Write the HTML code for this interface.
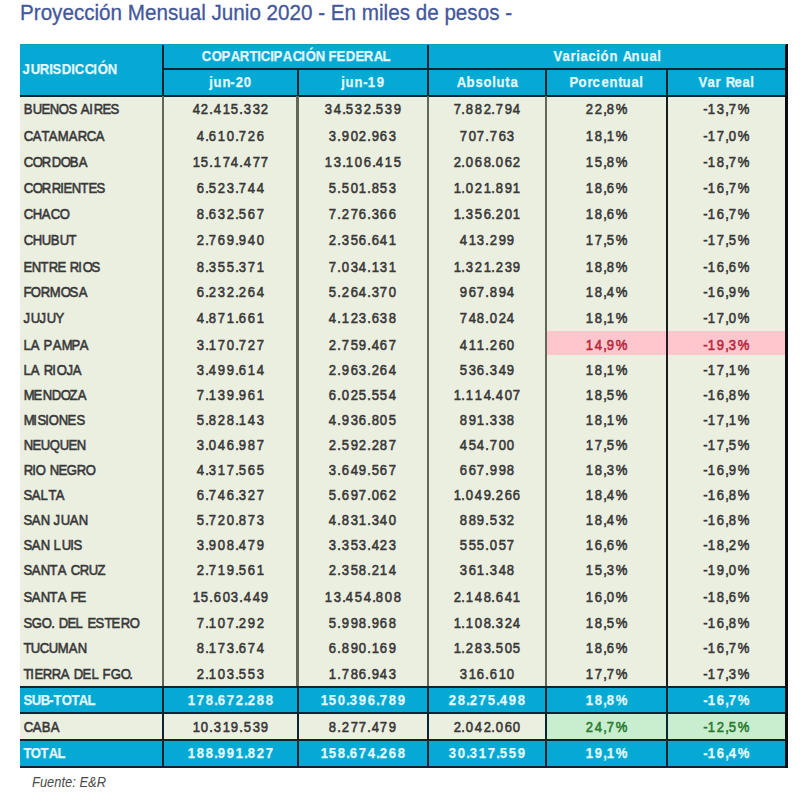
<!DOCTYPE html>
<html><head><meta charset="utf-8"><style>
html,body{margin:0;padding:0;background:#fff;width:800px;height:804px;overflow:hidden;position:relative}
body{font-family:"Liberation Sans",sans-serif}
div,p{position:absolute;margin:0;padding:0}
p{white-space:nowrap;font-weight:normal}
.th,.tt{font-weight:bold;-webkit-text-stroke:0.25px}
.td{font-weight:normal;-webkit-text-stroke:0.6px}
i{display:inline-block;font-style:normal;text-align:center;transform:scaleX(0.86)}
.title{left:19.8px;top:-0.13px;font-size:22.5px;color:#43579a;font-weight:normal;-webkit-text-stroke:0.3px #43579a;line-height:25.87px;transform:scaleX(0.9171);transform-origin:left}
.th,.tt{color:#e4f8ff}
.td{color:#383838}
.bad{color:#b42a3c}
.good{color:#2a7a30}
.fuente{left:31.5px;top:774.40px;font-size:14px;line-height:16.1px;font-style:italic;font-weight:normal;color:#4a4a4a;transform:scaleX(0.9233);transform-origin:left}
</style></head><body>
<p class="title">Proyección Mensual Junio 2020 - En miles de pesos -</p>
<div style="left:20.00px;top:43.60px;width:766.00px;height:52.10px;background:#05aad4"></div>
<div style="left:20.00px;top:95.70px;width:766.00px;height:591.30px;background:#ebefe0"></div>
<div style="left:20.00px;top:687.00px;width:766.00px;height:26.40px;background:#05aad4"></div>
<div style="left:20.00px;top:713.40px;width:766.00px;height:26.60px;background:#ebefe0"></div>
<div style="left:20.00px;top:740.00px;width:766.00px;height:26.60px;background:#05aad4"></div>
<div style="left:545.90px;top:331.00px;width:240.10px;height:24.00px;background:#ffc6ce"></div>
<div style="left:545.90px;top:713.40px;width:240.10px;height:26.60px;background:#c9eecf"></div>
<p class="th" style="left:22.48px;top:60.42px;font-size:15.2px;line-height:17.48px"><i style="width:7.31px">J</i><i style="width:9.50px">U</i><i style="width:9.50px">R</i><i style="width:3.65px">I</i><i style="width:8.77px">S</i><i style="width:9.50px">D</i><i style="width:3.65px">I</i><i style="width:9.50px">C</i><i style="width:9.50px">C</i><i style="width:3.65px">I</i><i style="width:10.23px">Ó</i><i style="width:9.50px">N</i></p>
<p class="th" style="left:201.02px;top:47.02px;font-size:15.2px;line-height:17.48px"><i style="width:9.50px">C</i><i style="width:10.23px">O</i><i style="width:8.77px">P</i><i style="width:9.50px">A</i><i style="width:9.50px">R</i><i style="width:8.03px">T</i><i style="width:3.65px">I</i><i style="width:9.50px">C</i><i style="width:3.65px">I</i><i style="width:8.77px">P</i><i style="width:9.50px">A</i><i style="width:9.50px">C</i><i style="width:3.65px">I</i><i style="width:10.23px">Ó</i><i style="width:9.50px">N</i><i style="width:3.89px"> </i><i style="width:8.03px">F</i><i style="width:8.77px">E</i><i style="width:9.50px">D</i><i style="width:8.77px">E</i><i style="width:9.50px">R</i><i style="width:9.50px">A</i><i style="width:8.03px">L</i></p>
<p class="th" style="left:552.97px;top:47.02px;font-size:15.2px;line-height:17.48px"><i style="width:8.77px">V</i><i style="width:8.12px">a</i><i style="width:5.68px">r</i><i style="width:4.06px">i</i><i style="width:8.12px">a</i><i style="width:8.12px">c</i><i style="width:4.06px">i</i><i style="width:8.92px">ó</i><i style="width:8.92px">n</i><i style="width:3.89px"> </i><i style="width:9.50px">A</i><i style="width:8.92px">n</i><i style="width:8.92px">u</i><i style="width:8.12px">a</i><i style="width:4.06px">l</i></p>
<p class="th" style="left:208.58px;top:73.32px;font-size:15.2px;line-height:17.48px"><i style="width:4.06px">j</i><i style="width:8.92px">u</i><i style="width:8.92px">n</i><i style="width:4.16px">-</i><i style="width:8.84px">2</i><i style="width:8.84px">0</i></p>
<p class="th" style="left:340.93px;top:73.32px;font-size:15.2px;line-height:17.48px"><i style="width:4.06px">j</i><i style="width:8.92px">u</i><i style="width:8.92px">n</i><i style="width:4.16px">-</i><i style="width:8.84px">1</i><i style="width:8.84px">9</i></p>
<p class="th" style="left:456.30px;top:73.32px;font-size:15.2px;line-height:17.48px"><i style="width:9.50px">A</i><i style="width:8.92px">b</i><i style="width:8.12px">s</i><i style="width:8.92px">o</i><i style="width:4.06px">l</i><i style="width:8.92px">u</i><i style="width:4.86px">t</i><i style="width:8.12px">a</i></p>
<p class="th" style="left:569.06px;top:73.32px;font-size:15.2px;line-height:17.48px"><i style="width:8.77px">P</i><i style="width:8.92px">o</i><i style="width:5.68px">r</i><i style="width:8.12px">c</i><i style="width:8.12px">e</i><i style="width:8.92px">n</i><i style="width:4.86px">t</i><i style="width:8.92px">u</i><i style="width:8.12px">a</i><i style="width:4.06px">l</i></p>
<p class="th" style="left:698.22px;top:73.32px;font-size:15.2px;line-height:17.48px"><i style="width:8.77px">V</i><i style="width:8.12px">a</i><i style="width:5.68px">r</i><i style="width:3.89px"> </i><i style="width:9.50px">R</i><i style="width:8.12px">e</i><i style="width:8.12px">a</i><i style="width:4.06px">l</i></p>
<p class="td" style="left:22.69px;top:100.22px;font-size:15.2px;line-height:17.48px"><i style="width:9.06px">B</i><i style="width:9.06px">U</i><i style="width:8.37px">E</i><i style="width:9.06px">N</i><i style="width:9.76px">O</i><i style="width:8.37px">S</i><i style="width:3.89px"> </i><i style="width:9.06px">A</i><i style="width:3.49px">I</i><i style="width:9.06px">R</i><i style="width:8.37px">E</i><i style="width:8.37px">S</i></p>
<p class="td" style="left:191.61px;top:100.22px;font-size:15.2px;line-height:17.48px"><i style="width:8.84px">4</i><i style="width:8.84px">2</i><i style="width:3.47px">.</i><i style="width:8.84px">4</i><i style="width:8.84px">1</i><i style="width:8.84px">5</i><i style="width:3.47px">.</i><i style="width:8.84px">3</i><i style="width:8.84px">3</i><i style="width:8.84px">2</i></p>
<p class="td" style="left:323.96px;top:100.22px;font-size:15.2px;line-height:17.48px"><i style="width:8.84px">3</i><i style="width:8.84px">4</i><i style="width:3.47px">.</i><i style="width:8.84px">5</i><i style="width:8.84px">3</i><i style="width:8.84px">2</i><i style="width:3.47px">.</i><i style="width:8.84px">5</i><i style="width:8.84px">3</i><i style="width:8.84px">9</i></p>
<p class="td" style="left:452.58px;top:100.22px;font-size:15.2px;line-height:17.48px"><i style="width:8.84px">7</i><i style="width:3.47px">.</i><i style="width:8.84px">8</i><i style="width:8.84px">8</i><i style="width:8.84px">2</i><i style="width:3.47px">.</i><i style="width:8.84px">7</i><i style="width:8.84px">9</i><i style="width:8.84px">4</i></p>
<p class="td" style="left:585.08px;top:100.22px;font-size:15.2px;line-height:17.48px"><i style="width:8.84px">2</i><i style="width:8.84px">2</i><i style="width:3.47px">,</i><i style="width:8.84px">8</i><i style="width:12.45px">%</i></p>
<p class="td" style="left:703.05px;top:100.22px;font-size:15.2px;line-height:17.48px"><i style="width:4.16px">-</i><i style="width:8.84px">1</i><i style="width:8.84px">3</i><i style="width:3.47px">,</i><i style="width:8.84px">7</i><i style="width:12.45px">%</i></p>
<p class="td" style="left:22.69px;top:126.52px;font-size:15.2px;line-height:17.48px"><i style="width:9.06px">C</i><i style="width:9.06px">A</i><i style="width:7.67px">T</i><i style="width:9.06px">A</i><i style="width:10.45px">M</i><i style="width:9.06px">A</i><i style="width:9.06px">R</i><i style="width:9.06px">C</i><i style="width:9.06px">A</i></p>
<p class="td" style="left:196.03px;top:126.52px;font-size:15.2px;line-height:17.48px"><i style="width:8.84px">4</i><i style="width:3.47px">.</i><i style="width:8.84px">6</i><i style="width:8.84px">1</i><i style="width:8.84px">0</i><i style="width:3.47px">.</i><i style="width:8.84px">7</i><i style="width:8.84px">2</i><i style="width:8.84px">6</i></p>
<p class="td" style="left:328.38px;top:126.52px;font-size:15.2px;line-height:17.48px"><i style="width:8.84px">3</i><i style="width:3.47px">.</i><i style="width:8.84px">9</i><i style="width:8.84px">0</i><i style="width:8.84px">2</i><i style="width:3.47px">.</i><i style="width:8.84px">9</i><i style="width:8.84px">6</i><i style="width:8.84px">3</i></p>
<p class="td" style="left:458.74px;top:126.52px;font-size:15.2px;line-height:17.48px"><i style="width:8.84px">7</i><i style="width:8.84px">0</i><i style="width:8.84px">7</i><i style="width:3.47px">.</i><i style="width:8.84px">7</i><i style="width:8.84px">6</i><i style="width:8.84px">3</i></p>
<p class="td" style="left:585.08px;top:126.52px;font-size:15.2px;line-height:17.48px"><i style="width:8.84px">1</i><i style="width:8.84px">8</i><i style="width:3.47px">,</i><i style="width:8.84px">1</i><i style="width:12.45px">%</i></p>
<p class="td" style="left:703.05px;top:126.52px;font-size:15.2px;line-height:17.48px"><i style="width:4.16px">-</i><i style="width:8.84px">1</i><i style="width:8.84px">7</i><i style="width:3.47px">,</i><i style="width:8.84px">0</i><i style="width:12.45px">%</i></p>
<p class="td" style="left:22.69px;top:153.42px;font-size:15.2px;line-height:17.48px"><i style="width:9.06px">C</i><i style="width:9.76px">O</i><i style="width:9.06px">R</i><i style="width:9.06px">D</i><i style="width:9.76px">O</i><i style="width:9.06px">B</i><i style="width:9.06px">A</i></p>
<p class="td" style="left:191.61px;top:153.42px;font-size:15.2px;line-height:17.48px"><i style="width:8.84px">1</i><i style="width:8.84px">5</i><i style="width:3.47px">.</i><i style="width:8.84px">1</i><i style="width:8.84px">7</i><i style="width:8.84px">4</i><i style="width:3.47px">.</i><i style="width:8.84px">4</i><i style="width:8.84px">7</i><i style="width:8.84px">7</i></p>
<p class="td" style="left:323.96px;top:153.42px;font-size:15.2px;line-height:17.48px"><i style="width:8.84px">1</i><i style="width:8.84px">3</i><i style="width:3.47px">.</i><i style="width:8.84px">1</i><i style="width:8.84px">0</i><i style="width:8.84px">6</i><i style="width:3.47px">.</i><i style="width:8.84px">4</i><i style="width:8.84px">1</i><i style="width:8.84px">5</i></p>
<p class="td" style="left:452.58px;top:153.42px;font-size:15.2px;line-height:17.48px"><i style="width:8.84px">2</i><i style="width:3.47px">.</i><i style="width:8.84px">0</i><i style="width:8.84px">6</i><i style="width:8.84px">8</i><i style="width:3.47px">.</i><i style="width:8.84px">0</i><i style="width:8.84px">6</i><i style="width:8.84px">2</i></p>
<p class="td" style="left:585.08px;top:153.42px;font-size:15.2px;line-height:17.48px"><i style="width:8.84px">1</i><i style="width:8.84px">5</i><i style="width:3.47px">,</i><i style="width:8.84px">8</i><i style="width:12.45px">%</i></p>
<p class="td" style="left:703.05px;top:153.42px;font-size:15.2px;line-height:17.48px"><i style="width:4.16px">-</i><i style="width:8.84px">1</i><i style="width:8.84px">8</i><i style="width:3.47px">,</i><i style="width:8.84px">7</i><i style="width:12.45px">%</i></p>
<p class="td" style="left:22.69px;top:179.02px;font-size:15.2px;line-height:17.48px"><i style="width:9.06px">C</i><i style="width:9.76px">O</i><i style="width:9.06px">R</i><i style="width:9.06px">R</i><i style="width:3.49px">I</i><i style="width:8.37px">E</i><i style="width:9.06px">N</i><i style="width:7.67px">T</i><i style="width:8.37px">E</i><i style="width:8.37px">S</i></p>
<p class="td" style="left:196.03px;top:179.02px;font-size:15.2px;line-height:17.48px"><i style="width:8.84px">6</i><i style="width:3.47px">.</i><i style="width:8.84px">5</i><i style="width:8.84px">2</i><i style="width:8.84px">3</i><i style="width:3.47px">.</i><i style="width:8.84px">7</i><i style="width:8.84px">4</i><i style="width:8.84px">4</i></p>
<p class="td" style="left:328.38px;top:179.02px;font-size:15.2px;line-height:17.48px"><i style="width:8.84px">5</i><i style="width:3.47px">.</i><i style="width:8.84px">5</i><i style="width:8.84px">0</i><i style="width:8.84px">1</i><i style="width:3.47px">.</i><i style="width:8.84px">8</i><i style="width:8.84px">5</i><i style="width:8.84px">3</i></p>
<p class="td" style="left:452.58px;top:179.02px;font-size:15.2px;line-height:17.48px"><i style="width:8.84px">1</i><i style="width:3.47px">.</i><i style="width:8.84px">0</i><i style="width:8.84px">2</i><i style="width:8.84px">1</i><i style="width:3.47px">.</i><i style="width:8.84px">8</i><i style="width:8.84px">9</i><i style="width:8.84px">1</i></p>
<p class="td" style="left:585.08px;top:179.02px;font-size:15.2px;line-height:17.48px"><i style="width:8.84px">1</i><i style="width:8.84px">8</i><i style="width:3.47px">,</i><i style="width:8.84px">6</i><i style="width:12.45px">%</i></p>
<p class="td" style="left:703.05px;top:179.02px;font-size:15.2px;line-height:17.48px"><i style="width:4.16px">-</i><i style="width:8.84px">1</i><i style="width:8.84px">6</i><i style="width:3.47px">,</i><i style="width:8.84px">7</i><i style="width:12.45px">%</i></p>
<p class="td" style="left:22.69px;top:204.62px;font-size:15.2px;line-height:17.48px"><i style="width:9.06px">C</i><i style="width:9.06px">H</i><i style="width:9.06px">A</i><i style="width:9.06px">C</i><i style="width:9.76px">O</i></p>
<p class="td" style="left:196.03px;top:204.62px;font-size:15.2px;line-height:17.48px"><i style="width:8.84px">8</i><i style="width:3.47px">.</i><i style="width:8.84px">6</i><i style="width:8.84px">3</i><i style="width:8.84px">2</i><i style="width:3.47px">.</i><i style="width:8.84px">5</i><i style="width:8.84px">6</i><i style="width:8.84px">7</i></p>
<p class="td" style="left:328.38px;top:204.62px;font-size:15.2px;line-height:17.48px"><i style="width:8.84px">7</i><i style="width:3.47px">.</i><i style="width:8.84px">2</i><i style="width:8.84px">7</i><i style="width:8.84px">6</i><i style="width:3.47px">.</i><i style="width:8.84px">3</i><i style="width:8.84px">6</i><i style="width:8.84px">6</i></p>
<p class="td" style="left:452.58px;top:204.62px;font-size:15.2px;line-height:17.48px"><i style="width:8.84px">1</i><i style="width:3.47px">.</i><i style="width:8.84px">3</i><i style="width:8.84px">5</i><i style="width:8.84px">6</i><i style="width:3.47px">.</i><i style="width:8.84px">2</i><i style="width:8.84px">0</i><i style="width:8.84px">1</i></p>
<p class="td" style="left:585.08px;top:204.62px;font-size:15.2px;line-height:17.48px"><i style="width:8.84px">1</i><i style="width:8.84px">8</i><i style="width:3.47px">,</i><i style="width:8.84px">6</i><i style="width:12.45px">%</i></p>
<p class="td" style="left:703.05px;top:204.62px;font-size:15.2px;line-height:17.48px"><i style="width:4.16px">-</i><i style="width:8.84px">1</i><i style="width:8.84px">6</i><i style="width:3.47px">,</i><i style="width:8.84px">7</i><i style="width:12.45px">%</i></p>
<p class="td" style="left:22.69px;top:230.92px;font-size:15.2px;line-height:17.48px"><i style="width:9.06px">C</i><i style="width:9.06px">H</i><i style="width:9.06px">U</i><i style="width:9.06px">B</i><i style="width:9.06px">U</i><i style="width:7.67px">T</i></p>
<p class="td" style="left:196.03px;top:230.92px;font-size:15.2px;line-height:17.48px"><i style="width:8.84px">2</i><i style="width:3.47px">.</i><i style="width:8.84px">7</i><i style="width:8.84px">6</i><i style="width:8.84px">9</i><i style="width:3.47px">.</i><i style="width:8.84px">9</i><i style="width:8.84px">4</i><i style="width:8.84px">0</i></p>
<p class="td" style="left:328.38px;top:230.92px;font-size:15.2px;line-height:17.48px"><i style="width:8.84px">2</i><i style="width:3.47px">.</i><i style="width:8.84px">3</i><i style="width:8.84px">5</i><i style="width:8.84px">6</i><i style="width:3.47px">.</i><i style="width:8.84px">6</i><i style="width:8.84px">4</i><i style="width:8.84px">1</i></p>
<p class="td" style="left:458.74px;top:230.92px;font-size:15.2px;line-height:17.48px"><i style="width:8.84px">4</i><i style="width:8.84px">1</i><i style="width:8.84px">3</i><i style="width:3.47px">.</i><i style="width:8.84px">2</i><i style="width:8.84px">9</i><i style="width:8.84px">9</i></p>
<p class="td" style="left:585.08px;top:230.92px;font-size:15.2px;line-height:17.48px"><i style="width:8.84px">1</i><i style="width:8.84px">7</i><i style="width:3.47px">,</i><i style="width:8.84px">5</i><i style="width:12.45px">%</i></p>
<p class="td" style="left:703.05px;top:230.92px;font-size:15.2px;line-height:17.48px"><i style="width:4.16px">-</i><i style="width:8.84px">1</i><i style="width:8.84px">7</i><i style="width:3.47px">,</i><i style="width:8.84px">5</i><i style="width:12.45px">%</i></p>
<p class="td" style="left:22.67px;top:257.72px;font-size:15.2px;line-height:17.48px"><i style="width:8.37px">E</i><i style="width:9.06px">N</i><i style="width:7.67px">T</i><i style="width:9.06px">R</i><i style="width:8.37px">E</i><i style="width:3.89px"> </i><i style="width:9.06px">R</i><i style="width:3.49px">I</i><i style="width:9.76px">O</i><i style="width:8.37px">S</i></p>
<p class="td" style="left:196.03px;top:257.72px;font-size:15.2px;line-height:17.48px"><i style="width:8.84px">8</i><i style="width:3.47px">.</i><i style="width:8.84px">3</i><i style="width:8.84px">5</i><i style="width:8.84px">5</i><i style="width:3.47px">.</i><i style="width:8.84px">3</i><i style="width:8.84px">7</i><i style="width:8.84px">1</i></p>
<p class="td" style="left:328.38px;top:257.72px;font-size:15.2px;line-height:17.48px"><i style="width:8.84px">7</i><i style="width:3.47px">.</i><i style="width:8.84px">0</i><i style="width:8.84px">3</i><i style="width:8.84px">4</i><i style="width:3.47px">.</i><i style="width:8.84px">1</i><i style="width:8.84px">3</i><i style="width:8.84px">1</i></p>
<p class="td" style="left:452.58px;top:257.72px;font-size:15.2px;line-height:17.48px"><i style="width:8.84px">1</i><i style="width:3.47px">.</i><i style="width:8.84px">3</i><i style="width:8.84px">2</i><i style="width:8.84px">1</i><i style="width:3.47px">.</i><i style="width:8.84px">2</i><i style="width:8.84px">3</i><i style="width:8.84px">9</i></p>
<p class="td" style="left:585.08px;top:257.72px;font-size:15.2px;line-height:17.48px"><i style="width:8.84px">1</i><i style="width:8.84px">8</i><i style="width:3.47px">,</i><i style="width:8.84px">8</i><i style="width:12.45px">%</i></p>
<p class="td" style="left:703.05px;top:257.72px;font-size:15.2px;line-height:17.48px"><i style="width:4.16px">-</i><i style="width:8.84px">1</i><i style="width:8.84px">6</i><i style="width:3.47px">,</i><i style="width:8.84px">6</i><i style="width:12.45px">%</i></p>
<p class="td" style="left:22.66px;top:283.22px;font-size:15.2px;line-height:17.48px"><i style="width:7.67px">F</i><i style="width:9.76px">O</i><i style="width:9.06px">R</i><i style="width:10.45px">M</i><i style="width:9.76px">O</i><i style="width:8.37px">S</i><i style="width:9.06px">A</i></p>
<p class="td" style="left:196.03px;top:283.22px;font-size:15.2px;line-height:17.48px"><i style="width:8.84px">6</i><i style="width:3.47px">.</i><i style="width:8.84px">2</i><i style="width:8.84px">3</i><i style="width:8.84px">2</i><i style="width:3.47px">.</i><i style="width:8.84px">2</i><i style="width:8.84px">6</i><i style="width:8.84px">4</i></p>
<p class="td" style="left:328.38px;top:283.22px;font-size:15.2px;line-height:17.48px"><i style="width:8.84px">5</i><i style="width:3.47px">.</i><i style="width:8.84px">2</i><i style="width:8.84px">6</i><i style="width:8.84px">4</i><i style="width:3.47px">.</i><i style="width:8.84px">3</i><i style="width:8.84px">7</i><i style="width:8.84px">0</i></p>
<p class="td" style="left:458.74px;top:283.22px;font-size:15.2px;line-height:17.48px"><i style="width:8.84px">9</i><i style="width:8.84px">6</i><i style="width:8.84px">7</i><i style="width:3.47px">.</i><i style="width:8.84px">8</i><i style="width:8.84px">9</i><i style="width:8.84px">4</i></p>
<p class="td" style="left:585.08px;top:283.22px;font-size:15.2px;line-height:17.48px"><i style="width:8.84px">1</i><i style="width:8.84px">8</i><i style="width:3.47px">,</i><i style="width:8.84px">4</i><i style="width:12.45px">%</i></p>
<p class="td" style="left:703.05px;top:283.22px;font-size:15.2px;line-height:17.48px"><i style="width:4.16px">-</i><i style="width:8.84px">1</i><i style="width:8.84px">6</i><i style="width:3.47px">,</i><i style="width:8.84px">9</i><i style="width:12.45px">%</i></p>
<p class="td" style="left:22.65px;top:309.22px;font-size:15.2px;line-height:17.48px"><i style="width:6.98px">J</i><i style="width:9.06px">U</i><i style="width:6.98px">J</i><i style="width:9.06px">U</i><i style="width:8.37px">Y</i></p>
<p class="td" style="left:196.03px;top:309.22px;font-size:15.2px;line-height:17.48px"><i style="width:8.84px">4</i><i style="width:3.47px">.</i><i style="width:8.84px">8</i><i style="width:8.84px">7</i><i style="width:8.84px">1</i><i style="width:3.47px">.</i><i style="width:8.84px">6</i><i style="width:8.84px">6</i><i style="width:8.84px">1</i></p>
<p class="td" style="left:328.38px;top:309.22px;font-size:15.2px;line-height:17.48px"><i style="width:8.84px">4</i><i style="width:3.47px">.</i><i style="width:8.84px">1</i><i style="width:8.84px">2</i><i style="width:8.84px">3</i><i style="width:3.47px">.</i><i style="width:8.84px">6</i><i style="width:8.84px">3</i><i style="width:8.84px">8</i></p>
<p class="td" style="left:458.74px;top:309.22px;font-size:15.2px;line-height:17.48px"><i style="width:8.84px">7</i><i style="width:8.84px">4</i><i style="width:8.84px">8</i><i style="width:3.47px">.</i><i style="width:8.84px">0</i><i style="width:8.84px">2</i><i style="width:8.84px">4</i></p>
<p class="td" style="left:585.08px;top:309.22px;font-size:15.2px;line-height:17.48px"><i style="width:8.84px">1</i><i style="width:8.84px">8</i><i style="width:3.47px">,</i><i style="width:8.84px">1</i><i style="width:12.45px">%</i></p>
<p class="td" style="left:703.05px;top:309.22px;font-size:15.2px;line-height:17.48px"><i style="width:4.16px">-</i><i style="width:8.84px">1</i><i style="width:8.84px">7</i><i style="width:3.47px">,</i><i style="width:8.84px">0</i><i style="width:12.45px">%</i></p>
<p class="td" style="left:22.66px;top:335.52px;font-size:15.2px;line-height:17.48px"><i style="width:7.67px">L</i><i style="width:9.06px">A</i><i style="width:3.89px"> </i><i style="width:8.37px">P</i><i style="width:9.06px">A</i><i style="width:10.45px">M</i><i style="width:8.37px">P</i><i style="width:9.06px">A</i></p>
<p class="td" style="left:196.03px;top:335.52px;font-size:15.2px;line-height:17.48px"><i style="width:8.84px">3</i><i style="width:3.47px">.</i><i style="width:8.84px">1</i><i style="width:8.84px">7</i><i style="width:8.84px">0</i><i style="width:3.47px">.</i><i style="width:8.84px">7</i><i style="width:8.84px">2</i><i style="width:8.84px">7</i></p>
<p class="td" style="left:328.38px;top:335.52px;font-size:15.2px;line-height:17.48px"><i style="width:8.84px">2</i><i style="width:3.47px">.</i><i style="width:8.84px">7</i><i style="width:8.84px">5</i><i style="width:8.84px">9</i><i style="width:3.47px">.</i><i style="width:8.84px">4</i><i style="width:8.84px">6</i><i style="width:8.84px">7</i></p>
<p class="td" style="left:458.74px;top:335.52px;font-size:15.2px;line-height:17.48px"><i style="width:8.84px">4</i><i style="width:8.84px">1</i><i style="width:8.84px">1</i><i style="width:3.47px">.</i><i style="width:8.84px">2</i><i style="width:8.84px">6</i><i style="width:8.84px">0</i></p>
<p class="td bad" style="left:585.08px;top:335.52px;font-size:15.2px;line-height:17.48px"><i style="width:8.84px">1</i><i style="width:8.84px">4</i><i style="width:3.47px">,</i><i style="width:8.84px">9</i><i style="width:12.45px">%</i></p>
<p class="td bad" style="left:703.05px;top:335.52px;font-size:15.2px;line-height:17.48px"><i style="width:4.16px">-</i><i style="width:8.84px">1</i><i style="width:8.84px">9</i><i style="width:3.47px">,</i><i style="width:8.84px">3</i><i style="width:12.45px">%</i></p>
<p class="td" style="left:22.66px;top:361.12px;font-size:15.2px;line-height:17.48px"><i style="width:7.67px">L</i><i style="width:9.06px">A</i><i style="width:3.89px"> </i><i style="width:9.06px">R</i><i style="width:3.49px">I</i><i style="width:9.76px">O</i><i style="width:6.98px">J</i><i style="width:9.06px">A</i></p>
<p class="td" style="left:196.03px;top:361.12px;font-size:15.2px;line-height:17.48px"><i style="width:8.84px">3</i><i style="width:3.47px">.</i><i style="width:8.84px">4</i><i style="width:8.84px">9</i><i style="width:8.84px">9</i><i style="width:3.47px">.</i><i style="width:8.84px">6</i><i style="width:8.84px">1</i><i style="width:8.84px">4</i></p>
<p class="td" style="left:328.38px;top:361.12px;font-size:15.2px;line-height:17.48px"><i style="width:8.84px">2</i><i style="width:3.47px">.</i><i style="width:8.84px">9</i><i style="width:8.84px">6</i><i style="width:8.84px">3</i><i style="width:3.47px">.</i><i style="width:8.84px">2</i><i style="width:8.84px">6</i><i style="width:8.84px">4</i></p>
<p class="td" style="left:458.74px;top:361.12px;font-size:15.2px;line-height:17.48px"><i style="width:8.84px">5</i><i style="width:8.84px">3</i><i style="width:8.84px">6</i><i style="width:3.47px">.</i><i style="width:8.84px">3</i><i style="width:8.84px">4</i><i style="width:8.84px">9</i></p>
<p class="td" style="left:585.08px;top:361.12px;font-size:15.2px;line-height:17.48px"><i style="width:8.84px">1</i><i style="width:8.84px">8</i><i style="width:3.47px">,</i><i style="width:8.84px">1</i><i style="width:12.45px">%</i></p>
<p class="td" style="left:703.05px;top:361.12px;font-size:15.2px;line-height:17.48px"><i style="width:4.16px">-</i><i style="width:8.84px">1</i><i style="width:8.84px">7</i><i style="width:3.47px">,</i><i style="width:8.84px">1</i><i style="width:12.45px">%</i></p>
<p class="td" style="left:22.72px;top:386.12px;font-size:15.2px;line-height:17.48px"><i style="width:10.45px">M</i><i style="width:8.37px">E</i><i style="width:9.06px">N</i><i style="width:9.06px">D</i><i style="width:9.76px">O</i><i style="width:7.67px">Z</i><i style="width:9.06px">A</i></p>
<p class="td" style="left:196.03px;top:386.12px;font-size:15.2px;line-height:17.48px"><i style="width:8.84px">7</i><i style="width:3.47px">.</i><i style="width:8.84px">1</i><i style="width:8.84px">3</i><i style="width:8.84px">9</i><i style="width:3.47px">.</i><i style="width:8.84px">9</i><i style="width:8.84px">6</i><i style="width:8.84px">1</i></p>
<p class="td" style="left:328.38px;top:386.12px;font-size:15.2px;line-height:17.48px"><i style="width:8.84px">6</i><i style="width:3.47px">.</i><i style="width:8.84px">0</i><i style="width:8.84px">2</i><i style="width:8.84px">5</i><i style="width:3.47px">.</i><i style="width:8.84px">5</i><i style="width:8.84px">5</i><i style="width:8.84px">4</i></p>
<p class="td" style="left:452.58px;top:386.12px;font-size:15.2px;line-height:17.48px"><i style="width:8.84px">1</i><i style="width:3.47px">.</i><i style="width:8.84px">1</i><i style="width:8.84px">1</i><i style="width:8.84px">4</i><i style="width:3.47px">.</i><i style="width:8.84px">4</i><i style="width:8.84px">0</i><i style="width:8.84px">7</i></p>
<p class="td" style="left:585.08px;top:386.12px;font-size:15.2px;line-height:17.48px"><i style="width:8.84px">1</i><i style="width:8.84px">8</i><i style="width:3.47px">,</i><i style="width:8.84px">5</i><i style="width:12.45px">%</i></p>
<p class="td" style="left:703.05px;top:386.12px;font-size:15.2px;line-height:17.48px"><i style="width:4.16px">-</i><i style="width:8.84px">1</i><i style="width:8.84px">6</i><i style="width:3.47px">,</i><i style="width:8.84px">8</i><i style="width:12.45px">%</i></p>
<p class="td" style="left:22.72px;top:411.12px;font-size:15.2px;line-height:17.48px"><i style="width:10.45px">M</i><i style="width:3.49px">I</i><i style="width:8.37px">S</i><i style="width:3.49px">I</i><i style="width:9.76px">O</i><i style="width:9.06px">N</i><i style="width:8.37px">E</i><i style="width:8.37px">S</i></p>
<p class="td" style="left:196.03px;top:411.12px;font-size:15.2px;line-height:17.48px"><i style="width:8.84px">5</i><i style="width:3.47px">.</i><i style="width:8.84px">8</i><i style="width:8.84px">2</i><i style="width:8.84px">8</i><i style="width:3.47px">.</i><i style="width:8.84px">1</i><i style="width:8.84px">4</i><i style="width:8.84px">3</i></p>
<p class="td" style="left:328.38px;top:411.12px;font-size:15.2px;line-height:17.48px"><i style="width:8.84px">4</i><i style="width:3.47px">.</i><i style="width:8.84px">9</i><i style="width:8.84px">3</i><i style="width:8.84px">6</i><i style="width:3.47px">.</i><i style="width:8.84px">8</i><i style="width:8.84px">0</i><i style="width:8.84px">5</i></p>
<p class="td" style="left:458.74px;top:411.12px;font-size:15.2px;line-height:17.48px"><i style="width:8.84px">8</i><i style="width:8.84px">9</i><i style="width:8.84px">1</i><i style="width:3.47px">.</i><i style="width:8.84px">3</i><i style="width:8.84px">3</i><i style="width:8.84px">8</i></p>
<p class="td" style="left:585.08px;top:411.12px;font-size:15.2px;line-height:17.48px"><i style="width:8.84px">1</i><i style="width:8.84px">8</i><i style="width:3.47px">,</i><i style="width:8.84px">1</i><i style="width:12.45px">%</i></p>
<p class="td" style="left:703.05px;top:411.12px;font-size:15.2px;line-height:17.48px"><i style="width:4.16px">-</i><i style="width:8.84px">1</i><i style="width:8.84px">7</i><i style="width:3.47px">,</i><i style="width:8.84px">1</i><i style="width:12.45px">%</i></p>
<p class="td" style="left:22.69px;top:436.12px;font-size:15.2px;line-height:17.48px"><i style="width:9.06px">N</i><i style="width:8.37px">E</i><i style="width:9.06px">U</i><i style="width:9.76px">Q</i><i style="width:9.06px">U</i><i style="width:8.37px">E</i><i style="width:9.06px">N</i></p>
<p class="td" style="left:196.03px;top:436.12px;font-size:15.2px;line-height:17.48px"><i style="width:8.84px">3</i><i style="width:3.47px">.</i><i style="width:8.84px">0</i><i style="width:8.84px">4</i><i style="width:8.84px">6</i><i style="width:3.47px">.</i><i style="width:8.84px">9</i><i style="width:8.84px">8</i><i style="width:8.84px">7</i></p>
<p class="td" style="left:328.38px;top:436.12px;font-size:15.2px;line-height:17.48px"><i style="width:8.84px">2</i><i style="width:3.47px">.</i><i style="width:8.84px">5</i><i style="width:8.84px">9</i><i style="width:8.84px">2</i><i style="width:3.47px">.</i><i style="width:8.84px">2</i><i style="width:8.84px">8</i><i style="width:8.84px">7</i></p>
<p class="td" style="left:458.74px;top:436.12px;font-size:15.2px;line-height:17.48px"><i style="width:8.84px">4</i><i style="width:8.84px">5</i><i style="width:8.84px">4</i><i style="width:3.47px">.</i><i style="width:8.84px">7</i><i style="width:8.84px">0</i><i style="width:8.84px">0</i></p>
<p class="td" style="left:585.08px;top:436.12px;font-size:15.2px;line-height:17.48px"><i style="width:8.84px">1</i><i style="width:8.84px">7</i><i style="width:3.47px">,</i><i style="width:8.84px">5</i><i style="width:12.45px">%</i></p>
<p class="td" style="left:703.05px;top:436.12px;font-size:15.2px;line-height:17.48px"><i style="width:4.16px">-</i><i style="width:8.84px">1</i><i style="width:8.84px">7</i><i style="width:3.47px">,</i><i style="width:8.84px">5</i><i style="width:12.45px">%</i></p>
<p class="td" style="left:22.69px;top:461.12px;font-size:15.2px;line-height:17.48px"><i style="width:9.06px">R</i><i style="width:3.49px">I</i><i style="width:9.76px">O</i><i style="width:3.89px"> </i><i style="width:9.06px">N</i><i style="width:8.37px">E</i><i style="width:9.76px">G</i><i style="width:9.06px">R</i><i style="width:9.76px">O</i></p>
<p class="td" style="left:196.03px;top:461.12px;font-size:15.2px;line-height:17.48px"><i style="width:8.84px">4</i><i style="width:3.47px">.</i><i style="width:8.84px">3</i><i style="width:8.84px">1</i><i style="width:8.84px">7</i><i style="width:3.47px">.</i><i style="width:8.84px">5</i><i style="width:8.84px">6</i><i style="width:8.84px">5</i></p>
<p class="td" style="left:328.38px;top:461.12px;font-size:15.2px;line-height:17.48px"><i style="width:8.84px">3</i><i style="width:3.47px">.</i><i style="width:8.84px">6</i><i style="width:8.84px">4</i><i style="width:8.84px">9</i><i style="width:3.47px">.</i><i style="width:8.84px">5</i><i style="width:8.84px">6</i><i style="width:8.84px">7</i></p>
<p class="td" style="left:458.74px;top:461.12px;font-size:15.2px;line-height:17.48px"><i style="width:8.84px">6</i><i style="width:8.84px">6</i><i style="width:8.84px">7</i><i style="width:3.47px">.</i><i style="width:8.84px">9</i><i style="width:8.84px">9</i><i style="width:8.84px">8</i></p>
<p class="td" style="left:585.08px;top:461.12px;font-size:15.2px;line-height:17.48px"><i style="width:8.84px">1</i><i style="width:8.84px">8</i><i style="width:3.47px">,</i><i style="width:8.84px">3</i><i style="width:12.45px">%</i></p>
<p class="td" style="left:703.05px;top:461.12px;font-size:15.2px;line-height:17.48px"><i style="width:4.16px">-</i><i style="width:8.84px">1</i><i style="width:8.84px">6</i><i style="width:3.47px">,</i><i style="width:8.84px">9</i><i style="width:12.45px">%</i></p>
<p class="td" style="left:22.67px;top:486.12px;font-size:15.2px;line-height:17.48px"><i style="width:8.37px">S</i><i style="width:9.06px">A</i><i style="width:7.67px">L</i><i style="width:7.67px">T</i><i style="width:9.06px">A</i></p>
<p class="td" style="left:196.03px;top:486.12px;font-size:15.2px;line-height:17.48px"><i style="width:8.84px">6</i><i style="width:3.47px">.</i><i style="width:8.84px">7</i><i style="width:8.84px">4</i><i style="width:8.84px">6</i><i style="width:3.47px">.</i><i style="width:8.84px">3</i><i style="width:8.84px">2</i><i style="width:8.84px">7</i></p>
<p class="td" style="left:328.38px;top:486.12px;font-size:15.2px;line-height:17.48px"><i style="width:8.84px">5</i><i style="width:3.47px">.</i><i style="width:8.84px">6</i><i style="width:8.84px">9</i><i style="width:8.84px">7</i><i style="width:3.47px">.</i><i style="width:8.84px">0</i><i style="width:8.84px">6</i><i style="width:8.84px">2</i></p>
<p class="td" style="left:452.58px;top:486.12px;font-size:15.2px;line-height:17.48px"><i style="width:8.84px">1</i><i style="width:3.47px">.</i><i style="width:8.84px">0</i><i style="width:8.84px">4</i><i style="width:8.84px">9</i><i style="width:3.47px">.</i><i style="width:8.84px">2</i><i style="width:8.84px">6</i><i style="width:8.84px">6</i></p>
<p class="td" style="left:585.08px;top:486.12px;font-size:15.2px;line-height:17.48px"><i style="width:8.84px">1</i><i style="width:8.84px">8</i><i style="width:3.47px">,</i><i style="width:8.84px">4</i><i style="width:12.45px">%</i></p>
<p class="td" style="left:703.05px;top:486.12px;font-size:15.2px;line-height:17.48px"><i style="width:4.16px">-</i><i style="width:8.84px">1</i><i style="width:8.84px">6</i><i style="width:3.47px">,</i><i style="width:8.84px">8</i><i style="width:12.45px">%</i></p>
<p class="td" style="left:22.67px;top:511.12px;font-size:15.2px;line-height:17.48px"><i style="width:8.37px">S</i><i style="width:9.06px">A</i><i style="width:9.06px">N</i><i style="width:3.89px"> </i><i style="width:6.98px">J</i><i style="width:9.06px">U</i><i style="width:9.06px">A</i><i style="width:9.06px">N</i></p>
<p class="td" style="left:196.03px;top:511.12px;font-size:15.2px;line-height:17.48px"><i style="width:8.84px">5</i><i style="width:3.47px">.</i><i style="width:8.84px">7</i><i style="width:8.84px">2</i><i style="width:8.84px">0</i><i style="width:3.47px">.</i><i style="width:8.84px">8</i><i style="width:8.84px">7</i><i style="width:8.84px">3</i></p>
<p class="td" style="left:328.38px;top:511.12px;font-size:15.2px;line-height:17.48px"><i style="width:8.84px">4</i><i style="width:3.47px">.</i><i style="width:8.84px">8</i><i style="width:8.84px">3</i><i style="width:8.84px">1</i><i style="width:3.47px">.</i><i style="width:8.84px">3</i><i style="width:8.84px">4</i><i style="width:8.84px">0</i></p>
<p class="td" style="left:458.74px;top:511.12px;font-size:15.2px;line-height:17.48px"><i style="width:8.84px">8</i><i style="width:8.84px">8</i><i style="width:8.84px">9</i><i style="width:3.47px">.</i><i style="width:8.84px">5</i><i style="width:8.84px">3</i><i style="width:8.84px">2</i></p>
<p class="td" style="left:585.08px;top:511.12px;font-size:15.2px;line-height:17.48px"><i style="width:8.84px">1</i><i style="width:8.84px">8</i><i style="width:3.47px">,</i><i style="width:8.84px">4</i><i style="width:12.45px">%</i></p>
<p class="td" style="left:703.05px;top:511.12px;font-size:15.2px;line-height:17.48px"><i style="width:4.16px">-</i><i style="width:8.84px">1</i><i style="width:8.84px">6</i><i style="width:3.47px">,</i><i style="width:8.84px">8</i><i style="width:12.45px">%</i></p>
<p class="td" style="left:22.67px;top:536.12px;font-size:15.2px;line-height:17.48px"><i style="width:8.37px">S</i><i style="width:9.06px">A</i><i style="width:9.06px">N</i><i style="width:3.89px"> </i><i style="width:7.67px">L</i><i style="width:9.06px">U</i><i style="width:3.49px">I</i><i style="width:8.37px">S</i></p>
<p class="td" style="left:196.03px;top:536.12px;font-size:15.2px;line-height:17.48px"><i style="width:8.84px">3</i><i style="width:3.47px">.</i><i style="width:8.84px">9</i><i style="width:8.84px">0</i><i style="width:8.84px">8</i><i style="width:3.47px">.</i><i style="width:8.84px">4</i><i style="width:8.84px">7</i><i style="width:8.84px">9</i></p>
<p class="td" style="left:328.38px;top:536.12px;font-size:15.2px;line-height:17.48px"><i style="width:8.84px">3</i><i style="width:3.47px">.</i><i style="width:8.84px">3</i><i style="width:8.84px">5</i><i style="width:8.84px">3</i><i style="width:3.47px">.</i><i style="width:8.84px">4</i><i style="width:8.84px">2</i><i style="width:8.84px">3</i></p>
<p class="td" style="left:458.74px;top:536.12px;font-size:15.2px;line-height:17.48px"><i style="width:8.84px">5</i><i style="width:8.84px">5</i><i style="width:8.84px">5</i><i style="width:3.47px">.</i><i style="width:8.84px">0</i><i style="width:8.84px">5</i><i style="width:8.84px">7</i></p>
<p class="td" style="left:585.08px;top:536.12px;font-size:15.2px;line-height:17.48px"><i style="width:8.84px">1</i><i style="width:8.84px">6</i><i style="width:3.47px">,</i><i style="width:8.84px">6</i><i style="width:12.45px">%</i></p>
<p class="td" style="left:703.05px;top:536.12px;font-size:15.2px;line-height:17.48px"><i style="width:4.16px">-</i><i style="width:8.84px">1</i><i style="width:8.84px">8</i><i style="width:3.47px">,</i><i style="width:8.84px">2</i><i style="width:12.45px">%</i></p>
<p class="td" style="left:22.67px;top:561.12px;font-size:15.2px;line-height:17.48px"><i style="width:8.37px">S</i><i style="width:9.06px">A</i><i style="width:9.06px">N</i><i style="width:7.67px">T</i><i style="width:9.06px">A</i><i style="width:3.89px"> </i><i style="width:9.06px">C</i><i style="width:9.06px">R</i><i style="width:9.06px">U</i><i style="width:7.67px">Z</i></p>
<p class="td" style="left:196.03px;top:561.12px;font-size:15.2px;line-height:17.48px"><i style="width:8.84px">2</i><i style="width:3.47px">.</i><i style="width:8.84px">7</i><i style="width:8.84px">1</i><i style="width:8.84px">9</i><i style="width:3.47px">.</i><i style="width:8.84px">5</i><i style="width:8.84px">6</i><i style="width:8.84px">1</i></p>
<p class="td" style="left:328.38px;top:561.12px;font-size:15.2px;line-height:17.48px"><i style="width:8.84px">2</i><i style="width:3.47px">.</i><i style="width:8.84px">3</i><i style="width:8.84px">5</i><i style="width:8.84px">8</i><i style="width:3.47px">.</i><i style="width:8.84px">2</i><i style="width:8.84px">1</i><i style="width:8.84px">4</i></p>
<p class="td" style="left:458.74px;top:561.12px;font-size:15.2px;line-height:17.48px"><i style="width:8.84px">3</i><i style="width:8.84px">6</i><i style="width:8.84px">1</i><i style="width:3.47px">.</i><i style="width:8.84px">3</i><i style="width:8.84px">4</i><i style="width:8.84px">8</i></p>
<p class="td" style="left:585.08px;top:561.12px;font-size:15.2px;line-height:17.48px"><i style="width:8.84px">1</i><i style="width:8.84px">5</i><i style="width:3.47px">,</i><i style="width:8.84px">3</i><i style="width:12.45px">%</i></p>
<p class="td" style="left:703.05px;top:561.12px;font-size:15.2px;line-height:17.48px"><i style="width:4.16px">-</i><i style="width:8.84px">1</i><i style="width:8.84px">9</i><i style="width:3.47px">,</i><i style="width:8.84px">0</i><i style="width:12.45px">%</i></p>
<p class="td" style="left:22.67px;top:588.02px;font-size:15.2px;line-height:17.48px"><i style="width:8.37px">S</i><i style="width:9.06px">A</i><i style="width:9.06px">N</i><i style="width:7.67px">T</i><i style="width:9.06px">A</i><i style="width:3.89px"> </i><i style="width:7.67px">F</i><i style="width:8.37px">E</i></p>
<p class="td" style="left:191.61px;top:588.02px;font-size:15.2px;line-height:17.48px"><i style="width:8.84px">1</i><i style="width:8.84px">5</i><i style="width:3.47px">.</i><i style="width:8.84px">6</i><i style="width:8.84px">0</i><i style="width:8.84px">3</i><i style="width:3.47px">.</i><i style="width:8.84px">4</i><i style="width:8.84px">4</i><i style="width:8.84px">9</i></p>
<p class="td" style="left:323.96px;top:588.02px;font-size:15.2px;line-height:17.48px"><i style="width:8.84px">1</i><i style="width:8.84px">3</i><i style="width:3.47px">.</i><i style="width:8.84px">4</i><i style="width:8.84px">5</i><i style="width:8.84px">4</i><i style="width:3.47px">.</i><i style="width:8.84px">8</i><i style="width:8.84px">0</i><i style="width:8.84px">8</i></p>
<p class="td" style="left:452.58px;top:588.02px;font-size:15.2px;line-height:17.48px"><i style="width:8.84px">2</i><i style="width:3.47px">.</i><i style="width:8.84px">1</i><i style="width:8.84px">4</i><i style="width:8.84px">8</i><i style="width:3.47px">.</i><i style="width:8.84px">6</i><i style="width:8.84px">4</i><i style="width:8.84px">1</i></p>
<p class="td" style="left:585.08px;top:588.02px;font-size:15.2px;line-height:17.48px"><i style="width:8.84px">1</i><i style="width:8.84px">6</i><i style="width:3.47px">,</i><i style="width:8.84px">0</i><i style="width:12.45px">%</i></p>
<p class="td" style="left:703.05px;top:588.02px;font-size:15.2px;line-height:17.48px"><i style="width:4.16px">-</i><i style="width:8.84px">1</i><i style="width:8.84px">8</i><i style="width:3.47px">,</i><i style="width:8.84px">6</i><i style="width:12.45px">%</i></p>
<p class="td" style="left:22.67px;top:614.22px;font-size:15.2px;line-height:17.48px"><i style="width:8.37px">S</i><i style="width:9.76px">G</i><i style="width:9.76px">O</i><i style="width:3.47px">.</i><i style="width:3.89px"> </i><i style="width:9.06px">D</i><i style="width:8.37px">E</i><i style="width:7.67px">L</i><i style="width:3.89px"> </i><i style="width:8.37px">E</i><i style="width:8.37px">S</i><i style="width:7.67px">T</i><i style="width:8.37px">E</i><i style="width:9.06px">R</i><i style="width:9.76px">O</i></p>
<p class="td" style="left:196.03px;top:614.22px;font-size:15.2px;line-height:17.48px"><i style="width:8.84px">7</i><i style="width:3.47px">.</i><i style="width:8.84px">1</i><i style="width:8.84px">0</i><i style="width:8.84px">7</i><i style="width:3.47px">.</i><i style="width:8.84px">2</i><i style="width:8.84px">9</i><i style="width:8.84px">2</i></p>
<p class="td" style="left:328.38px;top:614.22px;font-size:15.2px;line-height:17.48px"><i style="width:8.84px">5</i><i style="width:3.47px">.</i><i style="width:8.84px">9</i><i style="width:8.84px">9</i><i style="width:8.84px">8</i><i style="width:3.47px">.</i><i style="width:8.84px">9</i><i style="width:8.84px">6</i><i style="width:8.84px">8</i></p>
<p class="td" style="left:452.58px;top:614.22px;font-size:15.2px;line-height:17.48px"><i style="width:8.84px">1</i><i style="width:3.47px">.</i><i style="width:8.84px">1</i><i style="width:8.84px">0</i><i style="width:8.84px">8</i><i style="width:3.47px">.</i><i style="width:8.84px">3</i><i style="width:8.84px">2</i><i style="width:8.84px">4</i></p>
<p class="td" style="left:585.08px;top:614.22px;font-size:15.2px;line-height:17.48px"><i style="width:8.84px">1</i><i style="width:8.84px">8</i><i style="width:3.47px">,</i><i style="width:8.84px">5</i><i style="width:12.45px">%</i></p>
<p class="td" style="left:703.05px;top:614.22px;font-size:15.2px;line-height:17.48px"><i style="width:4.16px">-</i><i style="width:8.84px">1</i><i style="width:8.84px">6</i><i style="width:3.47px">,</i><i style="width:8.84px">8</i><i style="width:12.45px">%</i></p>
<p class="td" style="left:22.66px;top:639.22px;font-size:15.2px;line-height:17.48px"><i style="width:7.67px">T</i><i style="width:9.06px">U</i><i style="width:9.06px">C</i><i style="width:9.06px">U</i><i style="width:10.45px">M</i><i style="width:9.06px">A</i><i style="width:9.06px">N</i></p>
<p class="td" style="left:196.03px;top:639.22px;font-size:15.2px;line-height:17.48px"><i style="width:8.84px">8</i><i style="width:3.47px">.</i><i style="width:8.84px">1</i><i style="width:8.84px">7</i><i style="width:8.84px">3</i><i style="width:3.47px">.</i><i style="width:8.84px">6</i><i style="width:8.84px">7</i><i style="width:8.84px">4</i></p>
<p class="td" style="left:328.38px;top:639.22px;font-size:15.2px;line-height:17.48px"><i style="width:8.84px">6</i><i style="width:3.47px">.</i><i style="width:8.84px">8</i><i style="width:8.84px">9</i><i style="width:8.84px">0</i><i style="width:3.47px">.</i><i style="width:8.84px">1</i><i style="width:8.84px">6</i><i style="width:8.84px">9</i></p>
<p class="td" style="left:452.58px;top:639.22px;font-size:15.2px;line-height:17.48px"><i style="width:8.84px">1</i><i style="width:3.47px">.</i><i style="width:8.84px">2</i><i style="width:8.84px">8</i><i style="width:8.84px">3</i><i style="width:3.47px">.</i><i style="width:8.84px">5</i><i style="width:8.84px">0</i><i style="width:8.84px">5</i></p>
<p class="td" style="left:585.08px;top:639.22px;font-size:15.2px;line-height:17.48px"><i style="width:8.84px">1</i><i style="width:8.84px">8</i><i style="width:3.47px">,</i><i style="width:8.84px">6</i><i style="width:12.45px">%</i></p>
<p class="td" style="left:703.05px;top:639.22px;font-size:15.2px;line-height:17.48px"><i style="width:4.16px">-</i><i style="width:8.84px">1</i><i style="width:8.84px">6</i><i style="width:3.47px">,</i><i style="width:8.84px">7</i><i style="width:12.45px">%</i></p>
<p class="td" style="left:22.66px;top:664.92px;font-size:15.2px;line-height:17.48px"><i style="width:7.67px">T</i><i style="width:3.49px">I</i><i style="width:8.37px">E</i><i style="width:9.06px">R</i><i style="width:9.06px">R</i><i style="width:9.06px">A</i><i style="width:3.89px"> </i><i style="width:9.06px">D</i><i style="width:8.37px">E</i><i style="width:7.67px">L</i><i style="width:3.89px"> </i><i style="width:7.67px">F</i><i style="width:9.76px">G</i><i style="width:9.76px">O</i><i style="width:3.47px">.</i></p>
<p class="td" style="left:196.03px;top:664.92px;font-size:15.2px;line-height:17.48px"><i style="width:8.84px">2</i><i style="width:3.47px">.</i><i style="width:8.84px">1</i><i style="width:8.84px">0</i><i style="width:8.84px">3</i><i style="width:3.47px">.</i><i style="width:8.84px">5</i><i style="width:8.84px">5</i><i style="width:8.84px">3</i></p>
<p class="td" style="left:328.38px;top:664.92px;font-size:15.2px;line-height:17.48px"><i style="width:8.84px">1</i><i style="width:3.47px">.</i><i style="width:8.84px">7</i><i style="width:8.84px">8</i><i style="width:8.84px">6</i><i style="width:3.47px">.</i><i style="width:8.84px">9</i><i style="width:8.84px">4</i><i style="width:8.84px">3</i></p>
<p class="td" style="left:458.74px;top:664.92px;font-size:15.2px;line-height:17.48px"><i style="width:8.84px">3</i><i style="width:8.84px">1</i><i style="width:8.84px">6</i><i style="width:3.47px">.</i><i style="width:8.84px">6</i><i style="width:8.84px">1</i><i style="width:8.84px">0</i></p>
<p class="td" style="left:585.08px;top:664.92px;font-size:15.2px;line-height:17.48px"><i style="width:8.84px">1</i><i style="width:8.84px">7</i><i style="width:3.47px">,</i><i style="width:8.84px">7</i><i style="width:12.45px">%</i></p>
<p class="td" style="left:703.05px;top:664.92px;font-size:15.2px;line-height:17.48px"><i style="width:4.16px">-</i><i style="width:8.84px">1</i><i style="width:8.84px">7</i><i style="width:3.47px">,</i><i style="width:8.84px">3</i><i style="width:12.45px">%</i></p>
<p class="tt" style="left:22.67px;top:691.22px;font-size:15.2px;line-height:17.48px"><i style="width:8.37px">S</i><i style="width:9.06px">U</i><i style="width:9.06px">B</i><i style="width:4.16px">-</i><i style="width:7.67px">T</i><i style="width:9.76px">O</i><i style="width:7.67px">T</i><i style="width:9.06px">A</i><i style="width:7.67px">L</i></p>
<p class="tt" style="left:187.19px;top:691.22px;font-size:15.2px;line-height:17.48px"><i style="width:8.84px">1</i><i style="width:8.84px">7</i><i style="width:8.84px">8</i><i style="width:3.47px">.</i><i style="width:8.84px">6</i><i style="width:8.84px">7</i><i style="width:8.84px">2</i><i style="width:3.47px">.</i><i style="width:8.84px">2</i><i style="width:8.84px">8</i><i style="width:8.84px">8</i></p>
<p class="tt" style="left:319.54px;top:691.22px;font-size:15.2px;line-height:17.48px"><i style="width:8.84px">1</i><i style="width:8.84px">5</i><i style="width:8.84px">0</i><i style="width:3.47px">.</i><i style="width:8.84px">3</i><i style="width:8.84px">9</i><i style="width:8.84px">6</i><i style="width:3.47px">.</i><i style="width:8.84px">7</i><i style="width:8.84px">8</i><i style="width:8.84px">9</i></p>
<p class="tt" style="left:448.16px;top:691.22px;font-size:15.2px;line-height:17.48px"><i style="width:8.84px">2</i><i style="width:8.84px">8</i><i style="width:3.47px">.</i><i style="width:8.84px">2</i><i style="width:8.84px">7</i><i style="width:8.84px">5</i><i style="width:3.47px">.</i><i style="width:8.84px">4</i><i style="width:8.84px">9</i><i style="width:8.84px">8</i></p>
<p class="tt" style="left:585.08px;top:691.22px;font-size:15.2px;line-height:17.48px"><i style="width:8.84px">1</i><i style="width:8.84px">8</i><i style="width:3.47px">,</i><i style="width:8.84px">8</i><i style="width:12.45px">%</i></p>
<p class="tt" style="left:703.05px;top:691.22px;font-size:15.2px;line-height:17.48px"><i style="width:4.16px">-</i><i style="width:8.84px">1</i><i style="width:8.84px">6</i><i style="width:3.47px">,</i><i style="width:8.84px">7</i><i style="width:12.45px">%</i></p>
<p class="td" style="left:22.69px;top:717.62px;font-size:15.2px;line-height:17.48px"><i style="width:9.06px">C</i><i style="width:9.06px">A</i><i style="width:9.06px">B</i><i style="width:9.06px">A</i></p>
<p class="td" style="left:191.61px;top:717.62px;font-size:15.2px;line-height:17.48px"><i style="width:8.84px">1</i><i style="width:8.84px">0</i><i style="width:3.47px">.</i><i style="width:8.84px">3</i><i style="width:8.84px">1</i><i style="width:8.84px">9</i><i style="width:3.47px">.</i><i style="width:8.84px">5</i><i style="width:8.84px">3</i><i style="width:8.84px">9</i></p>
<p class="td" style="left:328.38px;top:717.62px;font-size:15.2px;line-height:17.48px"><i style="width:8.84px">8</i><i style="width:3.47px">.</i><i style="width:8.84px">2</i><i style="width:8.84px">7</i><i style="width:8.84px">7</i><i style="width:3.47px">.</i><i style="width:8.84px">4</i><i style="width:8.84px">7</i><i style="width:8.84px">9</i></p>
<p class="td" style="left:452.58px;top:717.62px;font-size:15.2px;line-height:17.48px"><i style="width:8.84px">2</i><i style="width:3.47px">.</i><i style="width:8.84px">0</i><i style="width:8.84px">4</i><i style="width:8.84px">2</i><i style="width:3.47px">.</i><i style="width:8.84px">0</i><i style="width:8.84px">6</i><i style="width:8.84px">0</i></p>
<p class="td good" style="left:585.08px;top:717.62px;font-size:15.2px;line-height:17.48px"><i style="width:8.84px">2</i><i style="width:8.84px">4</i><i style="width:3.47px">,</i><i style="width:8.84px">7</i><i style="width:12.45px">%</i></p>
<p class="td good" style="left:703.05px;top:717.62px;font-size:15.2px;line-height:17.48px"><i style="width:4.16px">-</i><i style="width:8.84px">1</i><i style="width:8.84px">2</i><i style="width:3.47px">,</i><i style="width:8.84px">5</i><i style="width:12.45px">%</i></p>
<p class="tt" style="left:22.66px;top:744.22px;font-size:15.2px;line-height:17.48px"><i style="width:7.67px">T</i><i style="width:9.76px">O</i><i style="width:7.67px">T</i><i style="width:9.06px">A</i><i style="width:7.67px">L</i></p>
<p class="tt" style="left:187.19px;top:744.22px;font-size:15.2px;line-height:17.48px"><i style="width:8.84px">1</i><i style="width:8.84px">8</i><i style="width:8.84px">8</i><i style="width:3.47px">.</i><i style="width:8.84px">9</i><i style="width:8.84px">9</i><i style="width:8.84px">1</i><i style="width:3.47px">.</i><i style="width:8.84px">8</i><i style="width:8.84px">2</i><i style="width:8.84px">7</i></p>
<p class="tt" style="left:319.54px;top:744.22px;font-size:15.2px;line-height:17.48px"><i style="width:8.84px">1</i><i style="width:8.84px">5</i><i style="width:8.84px">8</i><i style="width:3.47px">.</i><i style="width:8.84px">6</i><i style="width:8.84px">7</i><i style="width:8.84px">4</i><i style="width:3.47px">.</i><i style="width:8.84px">2</i><i style="width:8.84px">6</i><i style="width:8.84px">8</i></p>
<p class="tt" style="left:448.16px;top:744.22px;font-size:15.2px;line-height:17.48px"><i style="width:8.84px">3</i><i style="width:8.84px">0</i><i style="width:3.47px">.</i><i style="width:8.84px">3</i><i style="width:8.84px">1</i><i style="width:8.84px">7</i><i style="width:3.47px">.</i><i style="width:8.84px">5</i><i style="width:8.84px">5</i><i style="width:8.84px">9</i></p>
<p class="tt" style="left:585.08px;top:744.22px;font-size:15.2px;line-height:17.48px"><i style="width:8.84px">1</i><i style="width:8.84px">9</i><i style="width:3.47px">,</i><i style="width:8.84px">1</i><i style="width:12.45px">%</i></p>
<p class="tt" style="left:703.05px;top:744.22px;font-size:15.2px;line-height:17.48px"><i style="width:4.16px">-</i><i style="width:8.84px">1</i><i style="width:8.84px">6</i><i style="width:3.47px">,</i><i style="width:8.84px">4</i><i style="width:12.45px">%</i></p>
<div style="left:163.40px;top:68.20px;width:622.60px;height:2.00px;background:#0b2530"></div>
<div style="left:20.00px;top:94.70px;width:766.00px;height:2.00px;background:#0b2530"></div>
<div style="left:162.40px;top:43.60px;width:2.00px;height:52.10px;background:#0b2530"></div>
<div style="left:427.10px;top:43.60px;width:2.00px;height:52.10px;background:#0b2530"></div>
<div style="left:296.50px;top:69.20px;width:2.00px;height:26.50px;background:#0b2530"></div>
<div style="left:544.90px;top:69.20px;width:2.00px;height:26.50px;background:#0b2530"></div>
<div style="left:665.70px;top:69.20px;width:2.00px;height:26.50px;background:#0b2530"></div>
<div style="left:162.30px;top:95.70px;width:2.20px;height:591.30px;background:#62675a"></div>
<div style="left:296.40px;top:95.70px;width:2.20px;height:591.30px;background:#62675a"></div>
<div style="left:427.00px;top:95.70px;width:2.20px;height:591.30px;background:#62675a"></div>
<div style="left:544.80px;top:95.70px;width:2.20px;height:591.30px;background:#62675a"></div>
<div style="left:665.80px;top:95.70px;width:1.80px;height:591.30px;background:#1c1c1c"></div>
<div style="left:162.40px;top:687.00px;width:2.00px;height:79.60px;background:#0b2530"></div>
<div style="left:296.50px;top:687.00px;width:2.00px;height:79.60px;background:#0b2530"></div>
<div style="left:427.10px;top:687.00px;width:2.00px;height:79.60px;background:#0b2530"></div>
<div style="left:544.90px;top:687.00px;width:2.00px;height:79.60px;background:#0b2530"></div>
<div style="left:665.70px;top:687.00px;width:2.00px;height:79.60px;background:#0b2530"></div>
<div style="left:20.00px;top:686.00px;width:766.00px;height:2.00px;background:#0b2530"></div>
<div style="left:20.00px;top:712.40px;width:766.00px;height:2.00px;background:#0b2530"></div>
<div style="left:20.00px;top:739.00px;width:766.00px;height:2.00px;background:#0b2530"></div>
<div style="left:20.00px;top:765.60px;width:766.00px;height:2.00px;background:#0b2530"></div>
<div style="left:785.15px;top:43.60px;width:2.40px;height:724.00px;background:#0d0d10"></div>
<div style="left:20.00px;top:43.60px;width:766.00px;height:1.20px;background:#129fbc"></div>
<p class="fuente">Fuente: E&amp;R</p>
</body></html>
